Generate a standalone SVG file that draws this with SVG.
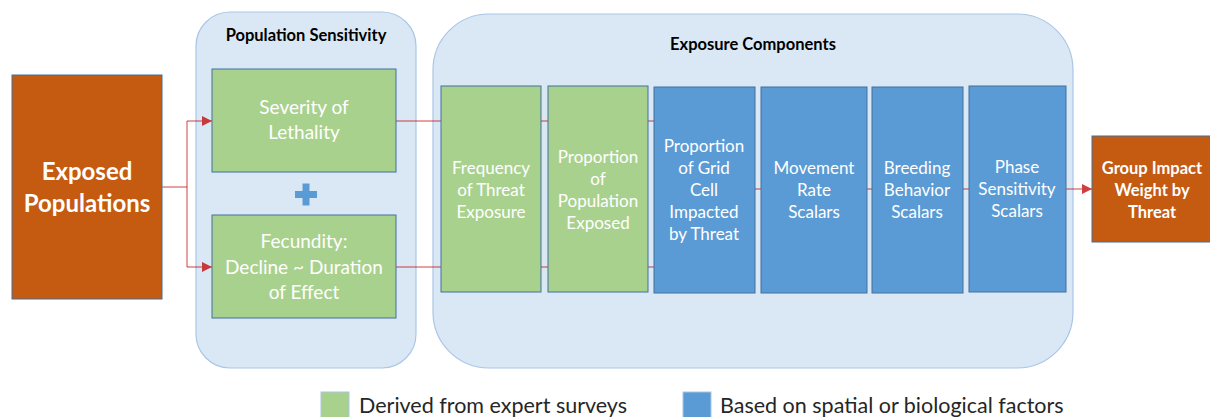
<svg xmlns="http://www.w3.org/2000/svg" width="1210" height="417" viewBox="0 0 1210 417">
<style>
.cont{fill:#DAE8F6;stroke:#A9C6E6;stroke-width:1.2}
.green{fill:#A9D18E;stroke:#41719C;stroke-width:1}
.blue{fill:#5B9BD5;stroke:#41719C;stroke-width:1}
.orange{fill:#C55A11;stroke:#41719C;stroke-width:1}
.t{font-family:Lato,"Liberation Sans",sans-serif;fill:#fff;text-anchor:middle}
.s{font-size:17px}
.m{font-size:19px}
.title{font-family:Lato,"Liberation Sans",sans-serif;font-weight:bold;font-size:16.5px;fill:#000;text-anchor:middle}
.leg{font-family:Lato,"Liberation Sans",sans-serif;font-size:21.5px;fill:#262626}
.conn{fill:none;stroke:#C00000;stroke-width:1;opacity:0.75}
</style>
<defs>
<marker id="arr" viewBox="0 0 10 10" refX="10" refY="5" markerWidth="10" markerHeight="10" markerUnits="userSpaceOnUse" orient="auto">
<path d="M0,0 L10,5 L0,10 z" fill="#C00000"/>
</marker>
</defs>
<g id="container-population-sensitivity">
<rect class="cont" x="196" y="12" width="220" height="356" rx="34"/>
<text class="title" x="306" y="41">Population Sensitivity</text>
</g>
<g id="container-exposure-components">
<rect class="cont" x="433" y="14" width="640" height="354" rx="56"/>
<text class="title" x="753" y="50">Exposure Components</text>
</g>
<g id="connectors">
<polyline class="conn" points="162,187 187,187"/>
<polyline class="conn" points="187,121 187,267"/>
<line class="conn" x1="187" y1="121" x2="212" y2="121" marker-end="url(#arr)"/>
<line class="conn" x1="187" y1="267" x2="212" y2="267" marker-end="url(#arr)"/>
<line class="conn" x1="396" y1="121" x2="441" y2="121"/>
<line class="conn" x1="396" y1="267" x2="441" y2="267"/>
<line class="conn" x1="541" y1="121" x2="548" y2="121"/>
<line class="conn" x1="541" y1="267" x2="548" y2="267"/>
<line class="conn" x1="648" y1="121" x2="654" y2="121"/>
<line class="conn" x1="648" y1="267" x2="654" y2="267"/>
<line class="conn" x1="755" y1="189" x2="761" y2="189"/>
<line class="conn" x1="867" y1="189" x2="872" y2="189"/>
<line class="conn" x1="963" y1="189" x2="969" y2="189"/>
<line class="conn" x1="1066" y1="189" x2="1092" y2="189" marker-end="url(#arr)"/>
</g>
<g id="exposed-populations">
<rect class="orange" x="12" y="75" width="150" height="224"/>
<text class="t" x="87" y="180" font-size="24" font-weight="bold">Exposed</text>
<text class="t" x="87" y="212" font-size="24" font-weight="bold">Populations</text>
</g>
<g id="severity-of-lethality">
<rect class="green" x="212" y="69" width="184" height="103"/>
<text class="t m" x="304" y="114">Severity of</text>
<text class="t m" x="304" y="139">Lethality</text>
</g>
<g id="plus">
<rect x="295" y="191" width="22" height="7" fill="#5B9BD5"/>
<rect x="302.5" y="183.5" width="7" height="22" fill="#5B9BD5"/>
</g>
<g id="fecundity">
<rect class="green" x="212" y="215" width="184" height="103"/>
<text class="t m" x="304" y="248">Fecundity:</text>
<text class="t m" x="304" y="274">Decline ~ Duration</text>
<text class="t m" x="304" y="299">of Effect</text>
</g>
<g id="frequency-of-threat-exposure">
<rect class="green" x="441" y="86" width="100" height="206"/>
<text class="t s" x="491" y="174">Frequency</text>
<text class="t s" x="491" y="196">of Threat</text>
<text class="t s" x="491" y="218">Exposure</text>
</g>
<g id="proportion-of-population-exposed">
<rect class="green" x="548" y="86" width="100" height="206"/>
<text class="t s" x="598" y="163">Proportion</text>
<text class="t s" x="598" y="185">of</text>
<text class="t s" x="598" y="207">Population</text>
<text class="t s" x="598" y="229">Exposed</text>
</g>
<g id="proportion-of-grid-cell">
<rect class="blue" x="654" y="87" width="101" height="206"/>
<text class="t s" x="704" y="152">Proportion</text>
<text class="t s" x="704" y="174">of Grid</text>
<text class="t s" x="704" y="196">Cell</text>
<text class="t s" x="704" y="218">Impacted</text>
<text class="t s" x="704" y="240">by Threat</text>
</g>
<g id="movement-rate-scalars">
<rect class="blue" x="761" y="87" width="106" height="206"/>
<text class="t s" x="814" y="174">Movement</text>
<text class="t s" x="814" y="196">Rate</text>
<text class="t s" x="814" y="218">Scalars</text>
</g>
<g id="breeding-behavior-scalars">
<rect class="blue" x="872" y="87" width="91" height="206"/>
<text class="t s" x="917" y="174">Breeding</text>
<text class="t s" x="917" y="196">Behavior</text>
<text class="t s" x="917" y="218">Scalars</text>
</g>
<g id="phase-sensitivity-scalars">
<rect class="blue" x="969" y="86" width="97" height="206"/>
<text class="t s" x="1017" y="173">Phase</text>
<text class="t s" x="1017" y="195">Sensitivity</text>
<text class="t s" x="1017" y="217">Scalars</text>
</g>
<g id="group-impact-weight">
<rect class="orange" x="1092" y="136" width="125" height="106"/>
<text class="t" x="1152" y="174" font-size="16.5" font-weight="bold">Group Impact</text>
<text class="t" x="1152" y="196" font-size="16.5" font-weight="bold">Weight by</text>
<text class="t" x="1152" y="218" font-size="16.5" font-weight="bold">Threat</text>
</g>
<g id="legend">
<rect x="321" y="392" width="28" height="28" fill="#A9D18E" stroke="#A9C6E6"/>
<text class="leg" x="359" y="413">Derived from expert surveys</text>
<rect x="683" y="392" width="28" height="28" fill="#5B9BD5" stroke="#A9C6E6"/>
<text class="leg" x="720" y="413">Based on spatial or biological factors</text>
</g>
</svg>
